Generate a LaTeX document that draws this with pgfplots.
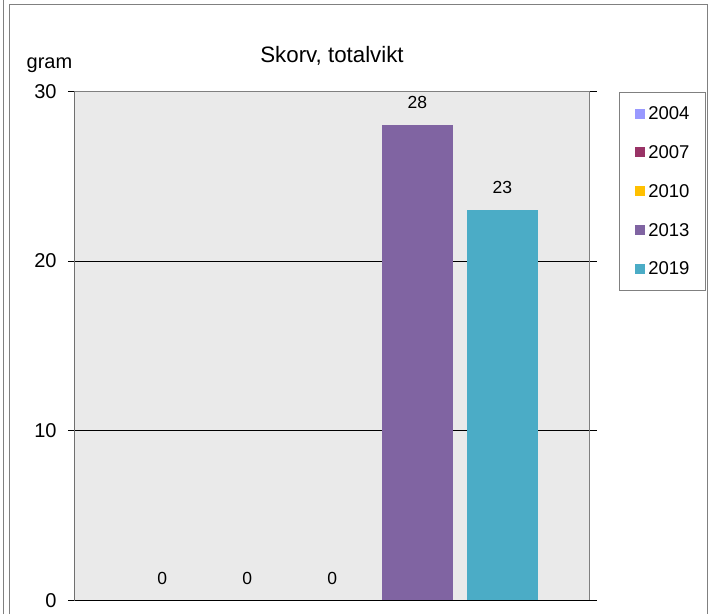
\documentclass[border=0pt]{standalone}
\usepackage{pgfplots}
\pgfplotsset{compat=1.18}
\usepackage{fontspec}
\setmainfont{Liberation Sans}
\definecolor{c04}{HTML}{9999FF}
\definecolor{c07}{HTML}{993366}
\definecolor{c10}{HTML}{FFC000}
\definecolor{c13}{HTML}{8064A2}
\definecolor{c19}{HTML}{4BACC6}
\definecolor{plotbg}{HTML}{EAEAEA}
\definecolor{framegray}{HTML}{808080}
\begin{document}
\begin{tikzpicture}[x=1pt,y=1pt]
\fill[white] (0,0) rectangle (708,614);
\draw[framegray, line width=1pt] (3,0) -- (3,614);
\draw[framegray, line width=1pt] (9,0) -- (9,609) -- (707,609) -- (707,0);
\node[font=\fontsize{22.3}{22.3}\selectfont, anchor=base] at (332,551) {Skorv, totalvikt};
\node[font=\fontsize{20}{20}\selectfont, anchor=base] at (49.5,545) {gram};
\begin{axis}[
  at={(88,8)}, anchor=south west,
  scale only axis, width=515pt, height=509pt,
  xmin=-0.03, xmax=6.03, ymin=0, ymax=30,
  ytick={0,10,20,30}, xtick=\empty,
  axis background/.style={fill=plotbg},
  axis line style={framegray, line width=1pt},
  ymajorgrids, grid style={black, line width=0.8pt},
  tick align=outside, major tick length=7pt,
  ytick style={black, line width=0.8pt},
  /pgf/number format/assume math mode=true,
  yticklabel style={font=\fontsize{20}{20}\selectfont, anchor=east, inner sep=0pt, xshift=-11pt},
  legend style={at={(1,1)}, anchor=north west, xshift=29pt, yshift=-1pt,
    draw=framegray, line width=1pt, fill=white,
    font=\fontsize{18.5}{18.5}\selectfont,
    inner xsep=16pt, inner ysep=13.8pt, row sep=24.4pt, column sep=3pt,
    nodes={inner sep=0pt}},
  legend cell align=left,
  legend image code/.code={\fill[#1, draw=none] (0pt,-4.6pt) rectangle (10pt,5.4pt);},
  nodes near coords,
  every node near coord/.append style={font=\fontsize{17.5}{17.5}\selectfont, color=black, anchor=south, inner sep=0pt, yshift=16pt},
]
\addplot[ybar, bar shift=0pt, bar width=0.84, fill=c04, draw=none] coordinates {(1,0)};
\addplot[ybar, bar shift=0pt, bar width=0.84, fill=c07, draw=none] coordinates {(2,0)};
\addplot[ybar, bar shift=0pt, bar width=0.84, fill=c10, draw=none] coordinates {(3,0)};
\addplot[ybar, bar shift=0pt, bar width=0.84, fill=c13, draw=none] coordinates {(4,28)};
\addplot[ybar, bar shift=0pt, bar width=0.84, fill=c19, draw=none] coordinates {(5,23)};
\legend{2004,2007,2010,2013,2019}
\draw[framegray, line width=2pt] ([xshift=1.5pt]rel axis cs:1,1) -- ([xshift=1.5pt,yshift=-1.5pt]rel axis cs:1,0) -- ([yshift=-1.5pt]rel axis cs:0,0);
\draw[black, line width=1pt] (rel axis cs:0,1) -- (rel axis cs:0,0) -- (rel axis cs:1,0);
\end{axis}
\pgfresetboundingbox
\path[use as bounding box] (0,0) rectangle (708,614);
\end{tikzpicture}
\end{document}
